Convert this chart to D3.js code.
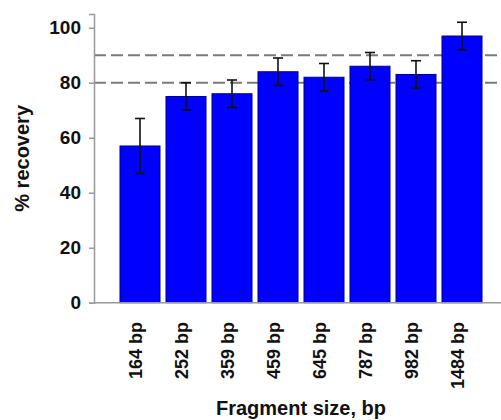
<!DOCTYPE html>
<html>
<head>
<meta charset="utf-8">
<script src="https://cdn.jsdelivr.net/npm/d3@7"></script>
<style>
  body { margin: 0; background: #fff; }
  svg { display: block; font-family: "Liberation Sans", Arial, sans-serif; }
</style>
</head>
<body>
<div id="chart"></div>
<script>
// 数据
const fragments = ["164 bp", "252 bp", "359 bp", "459 bp", "645 bp", "787 bp", "982 bp", "1484 bp"];
const recovery = [57, 75, 76, 84, 82, 86, 83, 97];
const errors = [10, 5, 5, 5, 5, 5, 5, 5];
const yTicks = [0, 20, 40, 60, 80, 100];
const refLines = [80, 90];

// 尺寸
const W = 501, H = 420;
const x0 = 94, x1 = 508;
const yTop = 14, yBottom = 302.7;

const svg = d3.select("#chart").append("svg")
  .attr("width", W)
  .attr("height", H);

const x = d3.scaleBand()
  .domain(fragments)
  .range([x0, x1])
  .paddingInner(0.13)
  .paddingOuter(0.565);

const y = d3.scaleLinear()
  .domain([0, 105])
  .range([yBottom, yTop]);

// 参考虚线
svg.selectAll(".ref")
  .data(refLines)
  .enter().append("line")
  .attr("x1", x0).attr("x2", W)
  .attr("y1", d => y(d)).attr("y2", d => y(d))
  .attr("stroke", "#7a7a7a")
  .attr("stroke-width", 2)
  .attr("stroke-dasharray", "12,5");

// 柱子
svg.selectAll(".bar")
  .data(fragments)
  .enter().append("rect")
  .attr("x", d => x(d))
  .attr("y", (d, i) => y(recovery[i]))
  .attr("width", x.bandwidth())
  .attr("height", (d, i) => yBottom - y(recovery[i]))
  .attr("fill", "#0000ff")
  .attr("stroke", "#00008a")
  .attr("stroke-width", 1);

// 误差线
const eb = svg.append("g").attr("stroke", "#111").attr("stroke-width", 1.6);
fragments.forEach((f, i) => {
  const cx = x(f) + x.bandwidth() / 2;
  const hi = y(recovery[i] + errors[i]), lo = y(recovery[i] - errors[i]);
  eb.append("line").attr("x1", cx).attr("x2", cx).attr("y1", hi).attr("y2", lo);
  eb.append("line").attr("x1", cx - 5).attr("x2", cx + 5).attr("y1", hi).attr("y2", hi);
  eb.append("line").attr("x1", cx - 5).attr("x2", cx + 5).attr("y1", lo).attr("y2", lo);
});

// Y 轴
const yAxis = svg.append("g")
  .attr("transform", `translate(${x0},0)`)
  .call(d3.axisLeft(y).tickValues(yTicks).tickSize(5).tickPadding(8));
yAxis.select(".domain").attr("stroke", "#999").attr("stroke-width", 1.5);
yAxis.selectAll(".tick line").attr("stroke", "#999").attr("stroke-width", 1.5);
yAxis.selectAll(".tick text")
  .attr("fill", "#111")
  .style("font-size", "19px")
  .style("font-weight", "bold");

// X 轴
svg.append("line")
  .attr("x1", x0).attr("x2", W)
  .attr("y1", yBottom).attr("y2", yBottom)
  .attr("stroke", "#999")
  .attr("stroke-width", 1.5);

svg.selectAll(".xlab")
  .data(fragments)
  .enter().append("text")
  .attr("transform", d => `translate(${x(d) + x.bandwidth() / 2 + 2},322) rotate(-90)`)
  .attr("text-anchor", "end")
  .attr("fill", "#111")
  .style("font-size", "18px")
  .style("font-weight", "bold")
  .text(d => d);

// 轴标题
svg.append("text")
  .attr("x", (x0 + x1) / 2)
  .attr("y", 415)
  .attr("text-anchor", "middle")
  .attr("fill", "#111")
  .style("font-size", "20px")
  .style("font-weight", "bold")
  .text("Fragment size, bp");

svg.append("text")
  .attr("transform", `translate(29,${(yTop + yBottom) / 2}) rotate(-90)`)
  .attr("text-anchor", "middle")
  .attr("fill", "#111")
  .style("font-size", "20px")
  .style("font-weight", "bold")
  .text("% recovery");
</script>
</body>
</html>
